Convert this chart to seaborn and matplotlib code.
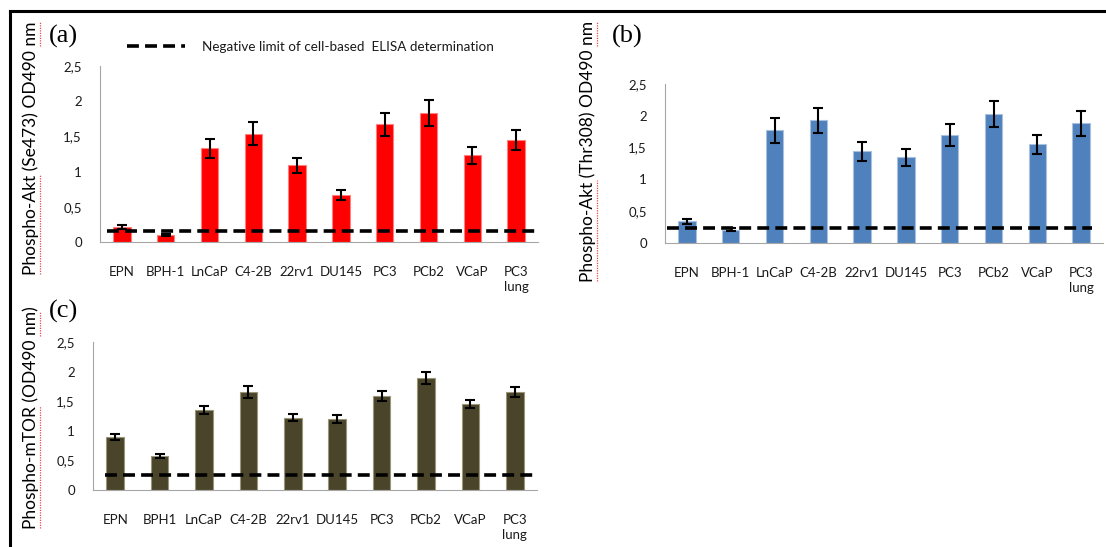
import matplotlib
matplotlib.use("Agg")
import matplotlib.pyplot as plt
import seaborn as sns
from matplotlib.lines import Line2D
from matplotlib.ticker import FixedLocator

# ---------------- data ----------------
cats_ab = ["EPN", "BPH-1", "LnCaP", "C4-2B", "22rv1", "DU145", "PC3", "PCb2", "VCaP", "PC3\nlung"]
cats_c = ["EPN", "BPH1", "LnCaP", "C4-2B", "22rv1", "DU145", "PC3", "PCb2", "VCaP", "PC3\nlung"]

akt473 = [0.21, 0.10, 1.33, 1.54, 1.09, 0.67, 1.67, 1.83, 1.23, 1.45]
akt473_err = [0.03, 0.01, 0.13, 0.16, 0.11, 0.07, 0.16, 0.18, 0.115, 0.14]
akt473_limit = 0.15

akt308 = [0.34, 0.21, 1.77, 1.93, 1.44, 1.35, 1.70, 2.03, 1.55, 1.88]
akt308_err = [0.035, 0.02, 0.19, 0.20, 0.15, 0.135, 0.175, 0.20, 0.15, 0.20]
akt308_limit = 0.23

mtor = [0.89, 0.57, 1.35, 1.66, 1.22, 1.20, 1.59, 1.89, 1.45, 1.66]
mtor_err = [0.05, 0.03, 0.07, 0.10, 0.06, 0.06, 0.08, 0.10, 0.07, 0.085]
mtor_limit = 0.26

ytick_vals = [0, 0.5, 1, 1.5, 2, 2.5]
ytick_labels = ["0", "0,5", "1", "1,5", "2", "2,5"]

ylabels = ["Phospho-Akt (Se473) OD490 nm", "Phospho-Akt (Thr308) OD490 nm", "Phospho-mTOR (OD490 nm)"]
# spell-check underlined pieces: (first word, last word, text after last word)
underlined = [
    ("Phospho-Akt", "nm", ""),
    ("Phospho-Akt", "nm", ""),
    ("Phospho-mTOR", "nm", ")"),
]
panel_tags = ["(a)", "(b)", "(c)"]
legend_text = "Negative limit of cell-based  ELISA determination"

# ---------------- style ----------------
sns.set_style("white")
plt.rcParams["font.family"] = ["Lato", "DejaVu Sans"]

W, H = 1106, 547
fig = plt.figure(figsize=(W / 100, H / 100), dpi=100)


def px_axes(x0, y0, x1, y1):
    return fig.add_axes([x0 / W, 1 - y1 / H, (x1 - x0) / W, (y1 - y0) / H])


AXIS_GRAY = "#A6A6A6"
TXT = "#1A1A1A"


def draw_panel(ax, cats, vals, errs, limit, color, edge, lim_span):
    sns.barplot(x=cats, y=vals, color=color, width=0.4, edgecolor=edge,
                linewidth=0.8, saturation=1, ax=ax)
    ax.errorbar(x=list(range(len(cats))), y=vals, yerr=errs, fmt="none",
                ecolor="black", elinewidth=1.5, capsize=3.5, capthick=1.5, zorder=5)
    ax.axhline(limit, xmin=lim_span[0], xmax=lim_span[1], color="black",
               lw=2.6, dashes=(3.3, 1.7), zorder=6)
    ax.set_xlim(-0.5, len(cats) - 0.5)
    ax.set_ylim(0, 2.5)
    ax.set_yticks(ytick_vals)
    ax.set_yticklabels(ytick_labels)
    ax.xaxis.set_minor_locator(FixedLocator([i - 0.5 for i in range(len(cats) + 1)]))
    ax.tick_params(axis="x", which="major", length=0, pad=17, labelsize=9.5, colors=TXT)
    ax.tick_params(axis="x", which="minor", length=4, width=0.8, color=AXIS_GRAY, direction="out")
    ax.tick_params(axis="y", which="major", length=4, width=0.8, color=AXIS_GRAY,
                   direction="out", pad=9, labelsize=9.5, labelcolor=TXT)
    for lab in ax.get_xticklabels():
        lab.set_linespacing(1.3)
        lab.set_verticalalignment("top")
    for s in ["top", "right"]:
        ax.spines[s].set_visible(False)
    for s in ["left", "bottom"]:
        ax.spines[s].set_color(AXIS_GRAY)
        ax.spines[s].set_linewidth(0.8)
    ax.set_xlabel("")
    ax.set_ylabel("")
    ax.set_facecolor("none")


ax_a = px_axes(100, 66, 538, 242)
ax_b = px_axes(665, 84, 1103, 243)
ax_c = px_axes(93, 342, 537, 490)

draw_panel(ax_a, cats_ab, akt473, akt473_err, akt473_limit, "#FF0000", "#FF8080", (0.015, 0.997))
draw_panel(ax_b, cats_ab, akt308, akt308_err, akt308_limit, "#4F81BD", "#A9C0DE", (0.004, 0.976))
draw_panel(ax_c, cats_c, mtor, mtor_err, mtor_limit, "#4A452A", "#9A9678", (0.028, 0.998))

# y labels
YL_FS = 12.5
ylab_pos = [(31, 148), (588, 151), (31, 418)]
ylab_texts = []
for (x, y), t in zip(ylab_pos, ylabels):
    ylab_texts.append(fig.text(x / W, 1 - y / H, t, rotation=90, ha="center", va="center",
                               fontsize=YL_FS, color="black"))

# spell-check style red dotted underline next to some words (Word artefact in the original)
fig.canvas.draw()
renderer = fig.canvas.get_renderer()


def text_width(s):
    if not s:
        return 0.0
    tmp = fig.text(0, 0, s, fontsize=YL_FS)
    w = tmp.get_window_extent(renderer).width
    tmp.remove()
    return w


for txt, (first, last, tail) in zip(ylab_texts, underlined):
    bb = txt.get_window_extent(renderer)
    xr = bb.x1 + 0.5
    spans = []
    s0 = bb.y0 + 1
    spans.append((s0, s0 + text_width(first)))
    e1 = bb.y1 - 1 - text_width(tail)
    spans.append((e1 - text_width(last), e1))
    for y0, y1 in spans:
        fig.add_artist(Line2D([xr / W, xr / W], [y0 / H, y1 / H], color="#F04848",
                              lw=0.9, ls=(0, (1, 1)), transform=fig.transFigure))

# panel tags
tag_pos = [(63, 36), (627, 36), (63, 311)]
for (x, y), t in zip(tag_pos, panel_tags):
    fig.text(x / W, 1 - y / H, t, ha="center", va="center", fontsize=19,
             family=["Liberation Serif"], color="black")

# legend
handle = Line2D([], [], color="black", lw=2.6, dashes=(3.3, 1.7))
fig.legend([handle], [legend_text], loc="center left",
           bbox_to_anchor=(127 / W, 1 - 47 / H), bbox_transform=fig.transFigure,
           frameon=False, borderpad=0, borderaxespad=0, handlelength=4.3,
           handletextpad=1.3, fontsize=9.7, labelcolor=TXT)

# outer frame (left and top edges)
fig.add_artist(Line2D([10 / W, 10 / W], [0, 1 - 11 / H], color="black", lw=2.2,
                      transform=fig.transFigure, solid_capstyle="projecting"))
fig.add_artist(Line2D([10 / W, 1], [1 - 11 / H, 1 - 11 / H], color="black", lw=2.2,
                      transform=fig.transFigure, solid_capstyle="projecting"))

fig.savefig("out.png", dpi=100, facecolor="white")
